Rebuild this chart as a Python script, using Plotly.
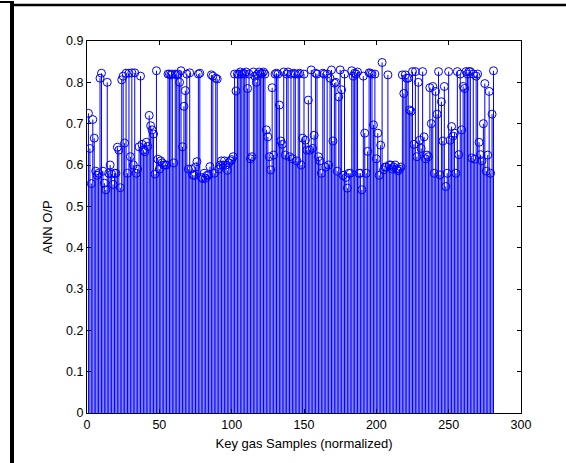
import plotly.graph_objects as go

samples = list(range(1, 282))
ann_output = [
    0.725, 0.64, 0.555, 0.71, 0.665, 0.585, 0.575, 0.58, 0.81, 0.822,
    0.585, 0.556, 0.54, 0.80, 0.58, 0.60, 0.578, 0.553, 0.58, 0.58,
    0.643, 0.636, 0.545, 0.806, 0.815, 0.653, 0.822, 0.58, 0.822, 0.62,
    0.823, 0.60, 0.823, 0.58, 0.59, 0.644, 0.815, 0.65, 0.636, 0.632,
    0.655, 0.645, 0.72, 0.695, 0.685, 0.675, 0.578, 0.828, 0.614, 0.59,
    0.61, 0.605, 0.60, 0.60, 0.60, 0.82, 0.82, 0.818, 0.82, 0.605,
    0.82, 0.818, 0.82, 0.80, 0.828, 0.644, 0.742, 0.78, 0.82, 0.59,
    0.823, 0.59, 0.576, 0.575, 0.595, 0.608, 0.82, 0.822, 0.57, 0.567,
    0.58, 0.568, 0.575, 0.575, 0.596, 0.818, 0.815, 0.58, 0.81, 0.808,
    0.59, 0.60, 0.61, 0.60, 0.61, 0.60, 0.587, 0.605, 0.61, 0.613,
    0.62, 0.82, 0.779, 0.82, 0.82, 0.825, 0.82, 0.822, 0.82, 0.825,
    0.785, 0.82, 0.615, 0.62, 0.825, 0.815, 0.80, 0.82, 0.825, 0.82,
    0.822, 0.825, 0.82, 0.685, 0.668, 0.62, 0.588, 0.787, 0.624, 0.82,
    0.822, 0.82, 0.745, 0.658, 0.65, 0.825, 0.624, 0.82, 0.825, 0.62,
    0.82, 0.615, 0.822, 0.82, 0.61, 0.82, 0.822, 0.60, 0.665, 0.82,
    0.66, 0.636, 0.757, 0.636, 0.83, 0.64, 0.672, 0.822, 0.82, 0.62,
    0.61, 0.58, 0.822, 0.82, 0.595, 0.82, 0.60, 0.81, 0.83, 0.658,
    0.798, 0.80, 0.585, 0.765, 0.83, 0.782, 0.575, 0.82, 0.57, 0.544,
    0.58, 0.58, 0.828, 0.815, 0.822, 0.82, 0.825, 0.58, 0.58, 0.54,
    0.815, 0.677, 0.58, 0.633, 0.823, 0.822, 0.82, 0.697, 0.82, 0.615,
    0.677, 0.575, 0.648, 0.848, 0.588, 0.595, 0.595, 0.818, 0.60, 0.60,
    0.59, 0.595, 0.60, 0.59, 0.586, 0.59, 0.595, 0.818, 0.773, 0.818,
    0.81, 0.81, 0.733, 0.73, 0.826, 0.65, 0.826, 0.62, 0.80, 0.66,
    0.64, 0.826, 0.668, 0.615, 0.624, 0.62, 0.787, 0.70, 0.79, 0.58,
    0.778, 0.723, 0.826, 0.576, 0.753, 0.658, 0.79, 0.548, 0.58, 0.826,
    0.66, 0.693, 0.67, 0.677, 0.58, 0.826, 0.625, 0.82, 0.685, 0.79,
    0.785, 0.826, 0.82, 0.826, 0.826, 0.617, 0.82, 0.614, 0.815, 0.82,
    0.655, 0.625, 0.61, 0.70, 0.797, 0.585, 0.624, 0.778, 0.58, 0.723,
    0.828,
]
x_ticks = [0, 50, 100, 150, 200, 250, 300]
y_ticks = [0, 0.1, 0.2, 0.3, 0.4, 0.5, 0.6, 0.7, 0.8, 0.9]
y_tick_labels = ["0", "0.1", "0.2", "0.3", "0.4", "0.5", "0.6", "0.7", "0.8", "0.9"]
x_title = "Key gas Samples (normalized)"
y_title = "ANN O/P"

blue = "#0000ff"
font_family = "Liberation Sans, Arial, sans-serif"

stem_x, stem_y = [], []
for xv, yv in zip(samples, ann_output):
    stem_x += [xv, xv, None]
    stem_y += [0, yv, None]

fig = go.Figure()
fig.add_trace(go.Scatter(x=stem_x, y=stem_y, mode="lines",
                         line=dict(color=blue, width=1), hoverinfo="skip",
                         showlegend=False))
fig.add_trace(go.Scatter(x=samples, y=ann_output, mode="markers",
                         marker=dict(symbol="circle-open", size=8,
                                     color=blue, line=dict(color=blue, width=1)),
                         showlegend=False))

W, H = 566, 463
L, R, T, B = 87, 45, 41, 50
pw, ph = W - L - R, H - T - B

def px(x):
    return (x - L) / pw

def py(y):
    return (H - B - y) / ph

axis_common = dict(showgrid=False, zeroline=False, showline=True, linecolor="black",
                   linewidth=1, mirror="allticks", ticks="inside", ticklen=4,
                   tickcolor="black", tickwidth=1,
                   tickfont=dict(family=font_family, size=12.5, color="black"))

fig.update_xaxes(range=[0, 300], tickmode="array", tickvals=x_ticks,
                 ticktext=[str(v) for v in x_ticks],
                 title=dict(text=x_title, standoff=7,
                            font=dict(family=font_family, size=13, color="black")),
                 **axis_common)
fig.update_yaxes(range=[0, 0.9], tickmode="array", tickvals=y_ticks,
                 ticktext=y_tick_labels,
                 title=dict(text=y_title, standoff=10,
                            font=dict(family=font_family, size=13, color="black")),
                 **axis_common)

shapes = [
    dict(type="line", xref="paper", yref="paper", x0=px(0), x1=px(12), y0=py(2), y1=py(2),
         line=dict(color="black", width=2)),
    dict(type="line", xref="paper", yref="paper", x0=px(12), x1=px(12), y0=py(1), y1=py(463),
         line=dict(color="black", width=4)),
    dict(type="line", xref="paper", yref="paper", x0=px(12), x1=px(566), y0=py(5), y1=py(5),
         line=dict(color="black", width=2.5)),
]

fig.update_layout(width=W, height=H, margin=dict(l=L, r=R, t=T, b=B),
                  paper_bgcolor="white", plot_bgcolor="white", shapes=shapes,
                  font=dict(family=font_family, size=12.5, color="black"))

fig.write_html("out.html", config={"displayModeBar": False},
               post_script="document.body.style.margin='0';document.body.style.overflow='hidden';")
